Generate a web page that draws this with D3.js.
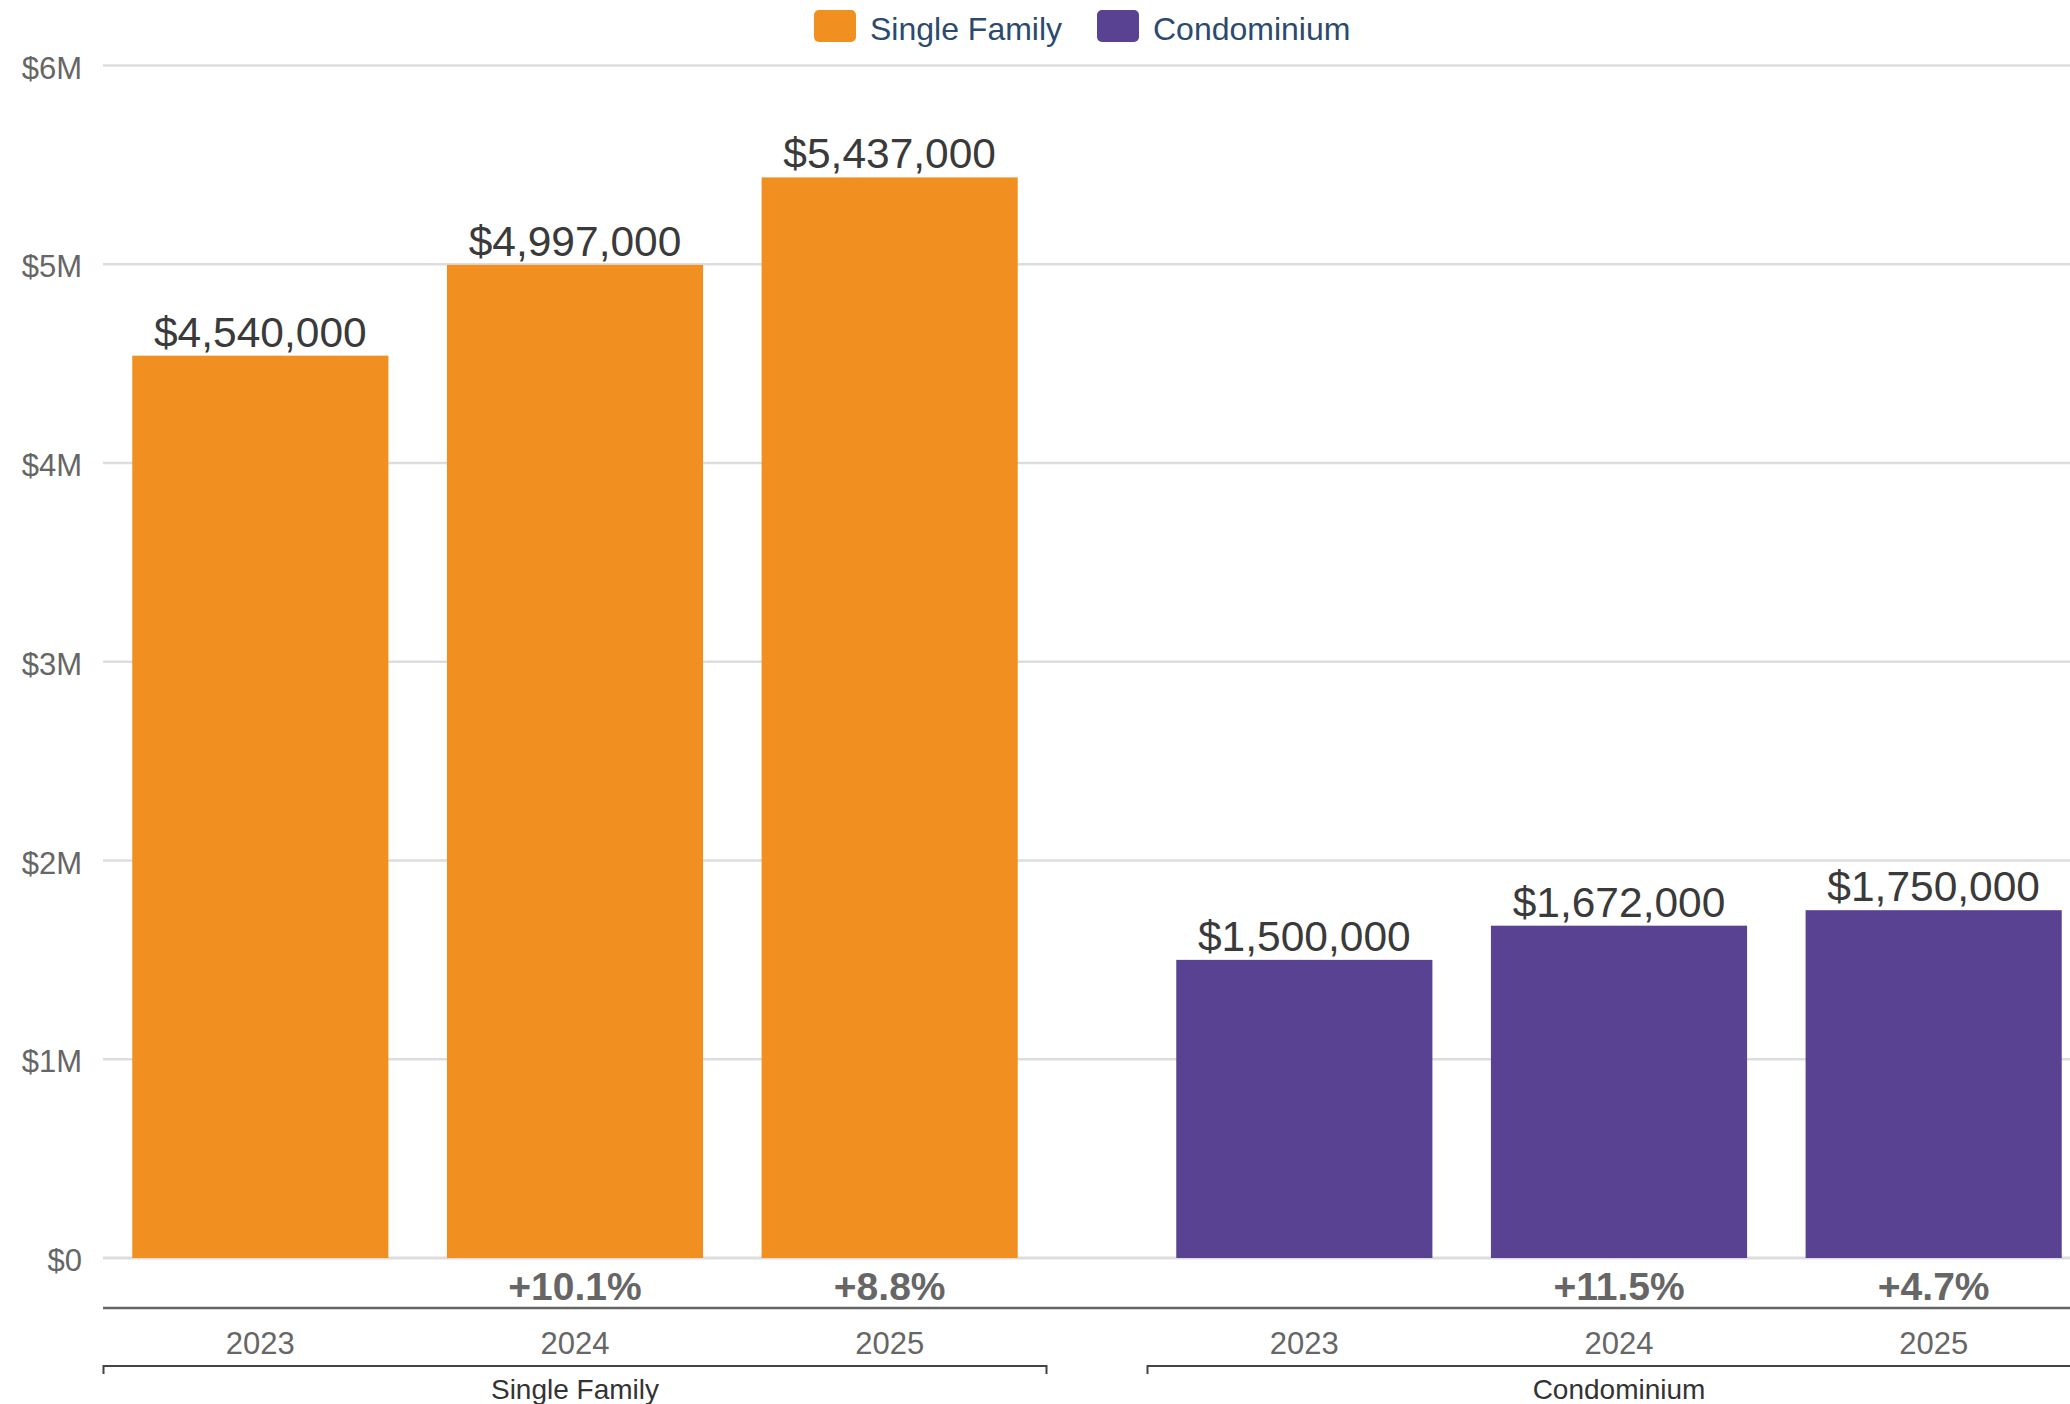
<!DOCTYPE html>
<html><head><meta charset="utf-8">
<script src="https://cdn.jsdelivr.net/npm/d3@7"></script>
<style>html,body{margin:0;padding:0;background:#fff;overflow:hidden}svg{display:block;font-family:"Liberation Sans",Arial,sans-serif}</style>
</head><body>
<svg id="c" width="2070" height="1404"></svg>
<script>
const groups = ["Single Family", "Condominium"];
const years = ["2023", "2024", "2025"];
const singleFamily = [4540000, 4997000, 5437000];
const condominium = [1500000, 1672000, 1750000];
const changes = {"Single Family": [null, "+10.1%", "+8.8%"], "Condominium": [null, "+11.5%", "+4.7%"]};
const yTicks = [0, 1000000, 2000000, 3000000, 4000000, 5000000, 6000000];
const yTickLabels = ["$0", "$1M", "$2M", "$3M", "$4M", "$5M", "$6M"];
const colors = {"Single Family": "#F28F21", "Condominium": "#594291"};

const seriesValues = {"Single Family": singleFamily, "Condominium": condominium};
const svg = d3.select("#c");

const y = d3.scaleLinear().domain([0, 6000000]).range([1258, 65.5]);
const x0 = d3.scaleBand().domain(groups).range([103, 2091]).paddingInner(100/1044).paddingOuter(0);
const x1 = d3.scaleBand().domain(years).range([0, x0.bandwidth()]).paddingInner(0.186).paddingOuter(0.093);

// grid
svg.append("g").selectAll("line").data(yTicks).join("line")
  .attr("x1", 103).attr("x2", 2070)
  .attr("y1", d => y(d)).attr("y2", d => y(d))
  .attr("stroke", "#dddddd").attr("stroke-width", d => d === 0 ? 3 : 2.5);

// y axis labels
svg.append("g").selectAll("text").data(yTicks).join("text")
  .attr("x", 82).attr("y", d => y(d) + 13)
  .attr("text-anchor", "end").attr("font-size", 31).attr("fill", "#666")
  .text((d, i) => yTickLabels[i]);

// bars
groups.forEach(g => {
  const gx = x0(g);
  const vals = seriesValues[g];
  const gg = svg.append("g").attr("transform", `translate(${gx},0)`);
  gg.selectAll("rect").data(years).join("rect")
    .attr("x", d => x1(d)).attr("width", x1.bandwidth())
    .attr("y", (d, i) => y(vals[i])).attr("height", (d, i) => y(0) - y(vals[i]))
    .attr("fill", colors[g]);
  gg.selectAll("text.val").data(years).join("text").attr("class", "val")
    .attr("x", d => x1(d) + x1.bandwidth() / 2).attr("y", (d, i) => y(vals[i]) - 9)
    .attr("text-anchor", "middle").attr("font-size", 42.5).attr("fill", "#3a3a3a")
    .text((d, i) => "$" + d3.format(",")(vals[i]));
  gg.selectAll("text.pct").data(years).join("text").attr("class", "pct")
    .attr("x", d => x1(d) + x1.bandwidth() / 2).attr("y", 1300)
    .attr("text-anchor", "middle").attr("font-size", 39).attr("font-weight", "bold").attr("fill", "#666")
    .text((d, i) => changes[g][i] || "");
  gg.selectAll("text.yr").data(years).join("text").attr("class", "yr")
    .attr("x", d => x1(d) + x1.bandwidth() / 2).attr("y", 1354)
    .attr("text-anchor", "middle").attr("font-size", 31).attr("fill", "#666")
    .text(d => d);
  // bracket
  const bw = x0.bandwidth();
  gg.append("path")
    .attr("d", `M0.5,1374 V1366 H${bw - 0.5} V1374`)
    .attr("fill", "none").attr("stroke", "#444").attr("stroke-width", 2);
  gg.append("text").attr("x", bw / 2).attr("y", 1399)
    .attr("text-anchor", "middle").attr("font-size", 28).attr("fill", "#333").text(g);
});

// axis line under pct
svg.append("line").attr("x1", 103).attr("x2", 2070).attr("y1", 1308).attr("y2", 1308)
  .attr("stroke", "#666").attr("stroke-width", 2.5);

// legend
const legend = [{name: "Single Family", x: 814}, {name: "Condominium", x: 1097}];
const lg = svg.append("g").selectAll("g").data(legend).join("g")
  .attr("transform", d => `translate(${d.x},10)`);
lg.append("rect").attr("width", 42).attr("height", 32).attr("rx", 5)
  .attr("fill", d => colors[d.name]);
lg.append("text").attr("x", 56).attr("y", 30).attr("font-size", 32).attr("fill", "#2b4a6e")
  .text(d => d.name);
</script>
</body></html>
